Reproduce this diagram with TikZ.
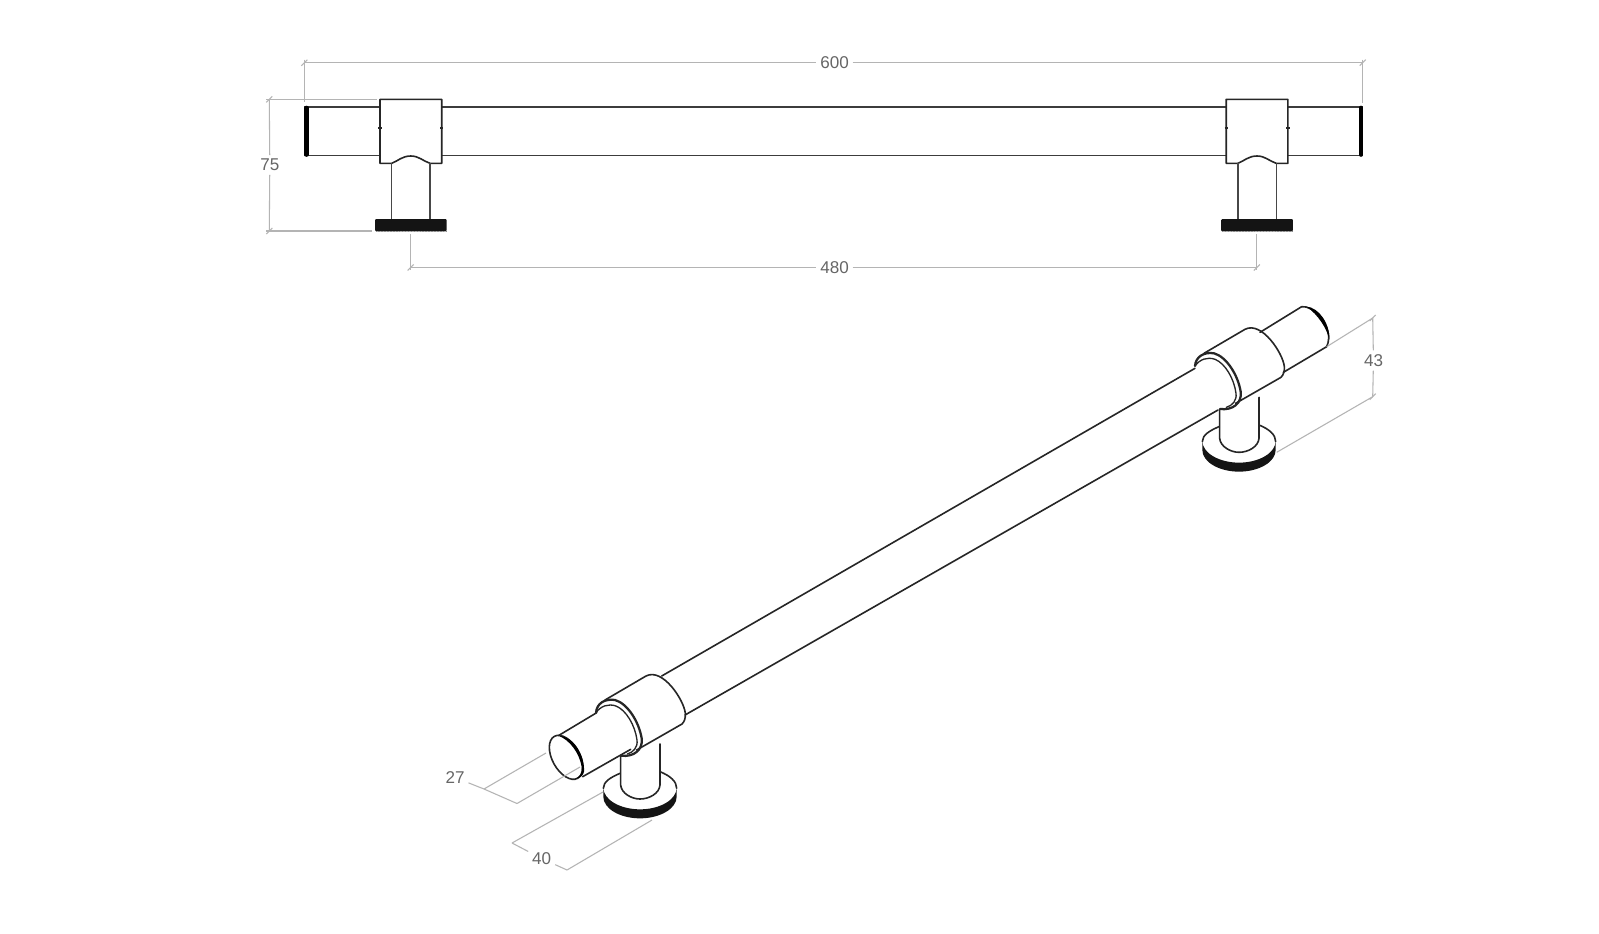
\documentclass[tikz,border=0pt]{standalone}
\usepackage{fontspec}
\setmainfont{Liberation Sans}
\definecolor{dimgray}{HTML}{B4B4B4}
\definecolor{dimtext}{HTML}{666666}
\definecolor{ink}{HTML}{262626}
\newcommand{\dimtick}[1]{\draw[dimline] ([shift={(-3,3)}]#1) -- ([shift={(3,-3)}]#1);}
\newcommand{\frontpart}[1]{%
\begin{scope}[shift={(#1,0)}]
  \draw[obj,fill=white] (380,99.3) -- (441.7,99.3) -- (441.7,163.3) -- (430,163.3)
     .. controls (423,161) and (419,156) .. (410.8,156)
     .. controls (402,156) and (398,161) .. (391.7,163.3) -- (380,163.3) -- cycle;
  \draw[thinobj] (391.7,163.3) -- (391.7,219);
  \draw[thinobj] (430,163.3) -- (430,219);
  \fill[black!92,rounded corners=0.8] (375,219) rectangle (446.7,231.3);
  \draw[black!45,line width=0.7pt,dash pattern=on 1.1pt off 1.1pt] (375.5,231.8) -- (446.2,231.8);
  \draw[ink,line width=0.8pt] (378.3,128) -- (381.7,128) (440,128) -- (443.4,128);
\end{scope}}
\tikzset{
  dimline/.style={draw=dimgray,line width=0.8pt},
  obj/.style={draw=ink,line width=1.2pt,line cap=round,line join=round},
  barline/.style={draw=ink!90,line width=1pt},
  thinobj/.style={draw=ink!85,line width=0.95pt},
  lbl/.style={text=dimtext,font=\fontsize{12.8}{13}\selectfont,inner sep=3pt,outer sep=0pt},
}
% iso collar and foot, in units of 1/3 px
\newcommand{\isofoot}[2]{%
\begin{scope}[shift={(#1,#2)},scale=1/3]
  \fill[black!92] (190,353) .. controls (190,389) and (240,418) .. (300,418)
     .. controls (360,418) and (410,389) .. (410,353) -- (410,380)
     .. controls (410,416) and (360,445) .. (300,445)
     .. controls (240,445) and (190,416) .. (190,380) -- cycle;
  \draw[obj] (190,355) .. controls (190,335) and (212,322) .. (240,310);
  \draw[obj] (410,355) .. controls (410,335) and (392,318) .. (360,305);
  \draw[obj] (242,258) -- (242,345) .. controls (244,370) and (275,387) .. (300,387)
     .. controls (328,387) and (358,370) .. (360,345) -- (360,222);
  \draw[obj] (195,90) -- (318,18) .. controls (368,-8) and (432,90) .. (436,130)
     .. controls (437,145) and (433,155) .. (426,162) -- (290,240);
  \draw[obj,line width=1.7pt] (168,128) .. controls (170,100) and (195,85) .. (225,90)
     .. controls (262,100) and (297,155) .. (305,205)
     .. controls (310,240) and (280,262) .. (243,257);
  \draw[obj,line width=1pt] (168,128) .. controls (182,108) and (205,100) .. (228,108)
     .. controls (258,120) and (285,165) .. (291,210)
     .. controls (294,232) and (280,247) .. (262,252);
\end{scope}}
\begin{document}
\begin{tikzpicture}[x=0.75pt,y=-0.75pt]
\useasboundingbox (0,0) rectangle (1599,933);
\fill[white] (0,0) rectangle (1599,933);

% ---------- front view ----------
\coordinate (ol) at (304.3,107);
\coordinate (il) at (304.3,155.5);
\coordinate (or) at (1362.7,107);
\coordinate (ir) at (1362.7,155.5);
\draw[barline] (ol) -- (380,107) (441.7,107) -- (1226,107) (1287.3,107) -- (or);
\draw[barline] (il) -- (380,155.5) (441.7,155.5) -- (1226,155.5) (1287.3,155.5) -- (ir);
\draw[black,line width=3.2pt,line cap=round] (306.4,107.8) -- (306.4,154.7);
\draw[black,line width=3.2pt,line cap=round] (1361,107.8) -- (1361,154.7);
\frontpart{0}
\frontpart{846.2}

% dimensions, front
\coordinate (d600a) at (304.3,62.7);
\coordinate (d600b) at (1362.7,62.7);
\node[lbl] (t600) at (834.5,62.7) {600};
\draw[dimline] (d600a) -- (t600) -- (d600b);
\coordinate (e600a) at (304.3,102);
\coordinate (e600b) at (1362.7,103);
\draw[dimline] (d600a) ++(0,-3) -- (e600a);
\draw[dimline] (d600b) ++(0,-3) -- (e600b);
\dimtick{d600a}\dimtick{d600b}

\coordinate (d75a) at (269.3,99.3);
\coordinate (d75b) at (269.3,231);
\node[lbl] (t75) at (269.8,165) {75};
\draw[dimline] (d75a) -- (t75) -- (d75b);
\coordinate (e75a) at (377,99.3);
\coordinate (e75b) at (372,231);
\draw[dimline] (266,99.3) -- (e75a);
\draw[dimline] (266,231) -- (e75b);
\dimtick{d75a}\dimtick{d75b}

\coordinate (d480a) at (410.7,267.5);
\coordinate (d480b) at (1256.8,267.5);
\node[lbl] (t480) at (834.5,267.5) {480};
\draw[dimline] (d480a) -- (t480) -- (d480b);
\coordinate (e480a) at (410.7,234);
\coordinate (e480b) at (1256.8,234);
\draw[dimline] (e480a) -- (410.7,270);
\draw[dimline] (e480b) -- (1256.8,270);
\dimtick{d480a}\dimtick{d480b}

% ---------- iso view ----------
\coordinate (bu1) at (661.7,676);
\coordinate (bu2) at (1195,368.3);
\coordinate (bl1) at (685,715);
\coordinate (bl2) at (1218,410);
\draw[obj] (bu1) -- (bu2);
\draw[obj] (bl1) -- (bl2);

\isofoot{540}{670}
\isofoot{1139}{323.3}

% left free end
\begin{scope}[shift={(540,670)},scale=1/3]
  \draw[obj] (55,197) -- (170,128);
  \draw[obj] (128,320) -- (272,238);
  \draw[obj,rotate around={-61:(78,262)}] (78,262) ellipse [x radius=72,y radius=41];
  \fill[black] (55,197) .. controls (100,198) and (135,255) .. (132,305)
     .. controls (131,315) and (120,326) .. (105,326)
     .. controls (118,322) and (127,312) .. (125,290)
     .. controls (118,250) and (90,210) .. (55,197) -- cycle;
\end{scope}
% right free end
\begin{scope}[shift={(1150,290)},scale=1/3]
  \draw[obj] (330,127) -- (455,50);
  \draw[obj] (400,247) -- (530,170);
  \draw[obj] (455,50) .. controls (490,46) and (537,100) .. (536,145)
     .. controls (536,155) and (533,162) .. (530,170);
  \fill[black] (470,50) .. controls (505,52) and (540,100) .. (538,148)
     .. controls (530,115) and (505,75) .. (470,50) -- cycle;
\end{scope}

% dimensions, iso
\coordinate (d43a) at (1372.7,318);
\coordinate (d43b) at (1372.7,396.7);
\coordinate (e43a) at (1326.7,346.7);
\coordinate (e43b) at (1276.7,452.3);
\node[lbl] (t43) at (1373.5,360.5) {43};
\draw[dimline] (d43a) -- (t43) -- (d43b);
\draw[dimline] (e43a) -- (d43a);
\draw[dimline] (e43b) -- (d43b);
\dimtick{d43a}\dimtick{d43b}

\coordinate (d27a) at (484,789);
\coordinate (d27b) at (517,803.5);
\coordinate (e27a) at (546,753);
\coordinate (e27b) at (580,767);
\node[lbl] (t27) at (455,777.5) {27};
\draw[dimline] (t27) -- (d27a) -- (d27b);
\draw[dimline] (e27a) -- (d27a);
\draw[dimline] (e27b) -- (d27b);

\coordinate (d40a) at (512,843);
\coordinate (d40b) at (567,870);
\coordinate (e40a) at (603,792);
\coordinate (e40b) at (652,820);
\node[lbl] (t40) at (541.7,858.5) {40};
\draw[dimline] (d40a) -- (t40) -- (d40b);
\draw[dimline] (e40a) -- (d40a);
\draw[dimline] (e40b) -- (d40b);
\end{tikzpicture}
\end{document}
